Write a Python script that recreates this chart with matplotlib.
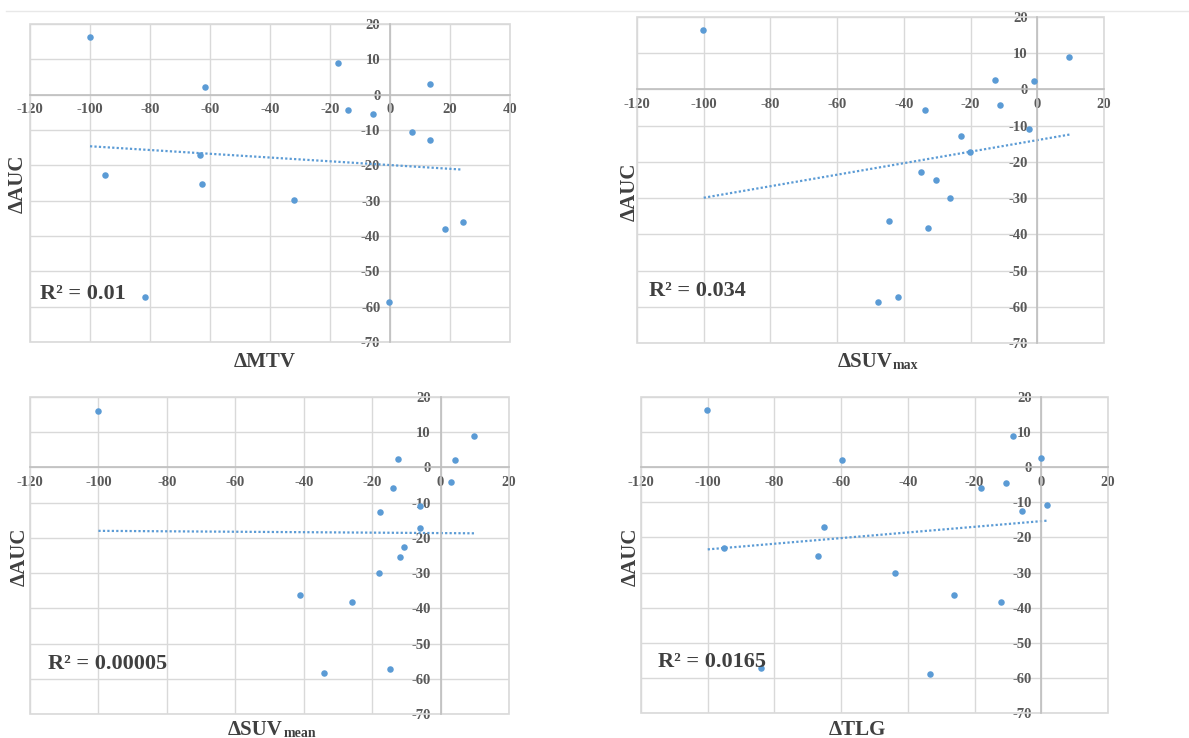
import matplotlib
matplotlib.use("Agg")
import matplotlib.pyplot as plt
from matplotlib.patches import Rectangle
from matplotlib.lines import Line2D

plt.rcParams['font.family'] = ['Liberation Serif', 'DejaVu Serif']
plt.rcParams['axes.unicode_minus'] = False

# ---- data ----
x_mtv = [-100, -61.6, -17.4, -14.0, -5.6, 13.4, 7.2, 13.4, -95.0, -63.3, -62.7, -32.1, 18.3, 24.2, -81.8, -0.4]
y_auc_mtv = [16.3, 2.1, 8.9, -4.3, -5.6, 2.9, -10.7, -12.8, -22.6, -17.1, -25.2, -29.9, -38.1, -36.1, -57.4, -58.7]
trend_x_mtv = [-100, 24]
trend_y_mtv = [-14.6, -21.2]

x_suvmax = [-100.2, 9.5, -12.6, -1.0, -33.6, -11.3, -2.4, -22.9, -20.2, -34.8, -30.4, -26.1, -44.5, -32.9, -47.7, -41.9]
y_auc_suvmax = [16.4, 9.0, 2.7, 2.3, -5.8, -4.4, -10.9, -12.8, -17.3, -22.7, -25.1, -30.1, -36.2, -38.2, -58.8, -57.4]
trend_x_suvmax = [-100, 10]
trend_y_suvmax = [-29.9, -12.4]

x_suvmean = [-100.2, 9.9, -12.3, 4.2, 3.0, -13.8, -5.9, -17.8, -6.0, -10.7, -12.0, -18.1, -41.0, -26.0, -34.0, -14.7]
y_auc_suvmean = [16.1, 8.9, 2.5, 2.2, -4.2, -5.9, -11.0, -12.7, -17.2, -22.6, -25.3, -30.1, -36.2, -38.2, -58.5, -57.2]
trend_x_suvmean = [-100, 10]
trend_y_suvmean = [-18.0, -18.7]

x_tlg = [-100.1, -59.6, -8.5, -0.2, -18.0, -10.7, 1.7, -5.9, -65.0, -95.0, -66.9, -44.0, -26.2, -12.0, -83.9, -33.5]
y_auc_tlg = [16.2, 2.1, 8.9, 2.5, -5.8, -4.4, -10.9, -12.6, -17.1, -22.9, -25.2, -30.1, -36.3, -38.3, -57.2, -58.9]
trend_x_tlg = [-100, 2]
trend_y_tlg = [-23.4, -15.2]

panels = [
    dict(x=x_mtv, y=y_auc_mtv, tx=trend_x_mtv, ty=trend_y_mtv, xlim=(-120, 40),
         xmain="\u0394MTV", xsub="", r2="R\u00b2 = 0.01",
         rect=(30, 24, 510, 342), ylab=(18, 184), xlab=(265, 367), r2pos=(40, 294)),
    dict(x=x_suvmax, y=y_auc_suvmax, tx=trend_x_suvmax, ty=trend_y_suvmax, xlim=(-120, 20),
         xmain="\u0394SUV", xsub="max", r2="R\u00b2 = 0.034",
         rect=(637, 17, 1104, 343), ylab=(630, 192), xlab=(878, 367), r2pos=(649, 291)),
    dict(x=x_suvmean, y=y_auc_suvmean, tx=trend_x_suvmean, ty=trend_y_suvmean, xlim=(-120, 20),
         xmain="\u0394SUV", xsub="mean", r2="R\u00b2 = 0.00005",
         rect=(30, 397, 509, 714), ylab=(20, 557), xlab=(272, 735), r2pos=(48, 664)),
    dict(x=x_tlg, y=y_auc_tlg, tx=trend_x_tlg, ty=trend_y_tlg, xlim=(-120, 20),
         xmain="\u0394TLG", xsub="", r2="R\u00b2 = 0.0165",
         rect=(641, 397, 1108, 713), ylab=(631, 557), xlab=(857, 735), r2pos=(658, 662)),
]

W, H = 1189, 738
fig = plt.figure(figsize=(W / 100, H / 100), dpi=100)
fig.patch.set_facecolor('white')

fig.add_artist(Line2D([6 / W, 1 - 1 / W], [1 - 11 / H, 1 - 11 / H], color='#e8e8e8', lw=1))

blue = '#5b9bd5'
grid_c = '#d9d9d9'
tick_c = '#595959'
title_c = '#404040'

fig.canvas.draw()
renderer = fig.canvas.get_renderer()

for p in panels:
    l, t, r, b = p['rect']
    ax = fig.add_axes([l / W, 1 - b / H, (r - l) / W, (b - t) / H])
    ax.set_xlim(*p['xlim'])
    ax.set_ylim(-70, 20)
    ax.set_xticks(list(range(p['xlim'][0], p['xlim'][1] + 1, 20)))
    ax.set_yticks(list(range(-70, 21, 10)))
    ax.grid(True, color=grid_c, lw=1.0, zorder=0)
    ax.set_axisbelow(True)
    for s in ['top', 'right']:
        ax.spines[s].set_visible(False)
    ax.spines['left'].set_position(('data', 0))
    ax.spines['bottom'].set_position(('data', 0))
    for s in ['left', 'bottom']:
        ax.spines[s].set_color('#bfbfbf')
        ax.spines[s].set_linewidth(1.2)
    ax.tick_params(length=0, colors=tick_c, labelsize=10.5)
    ax.tick_params(axis='y', pad=7)
    ax.tick_params(axis='x', pad=6)
    for lab in ax.get_xticklabels() + ax.get_yticklabels():
        lab.set_fontweight('bold')
        lab.set_color(tick_c)
    ax.add_patch(Rectangle((0, 0), 1, 1, transform=ax.transAxes, fill=False,
                           edgecolor=grid_c, lw=1.2, clip_on=False, zorder=1))
    ax.scatter(p['x'], p['y'], s=22, color=blue, zorder=3, linewidths=0)
    ax.plot(p['tx'], p['ty'], linestyle=(0, (1, 1)), color=blue, lw=1.6, zorder=2)

    fig.text(p['ylab'][0] / W, 1 - p['ylab'][1] / H, "\u0394AUC", rotation=90,
             ha='center', va='center', fontsize=15, fontweight='bold', color=title_c)

    # x-axis title: main part + optional small subscript on the same baseline
    cx, by = p['xlab']
    main = fig.text(0, 0, p['xmain'], fontsize=15, fontweight='bold', color=title_c)
    sub = fig.text(0, 0, p['xsub'], fontsize=10, fontweight='bold', color=title_c)
    wm = main.get_window_extent(renderer).width
    ws = sub.get_window_extent(renderer).width if p['xsub'] else 0
    x0 = cx - (wm + ws) / 2
    main.set_position((x0 / W, 1 - by / H))
    main.set_va('baseline')
    sub.set_position(((x0 + wm) / W, 1 - (by + 2) / H))
    sub.set_va('baseline')

    fig.text(p['r2pos'][0] / W, 1 - p['r2pos'][1] / H, p['r2'],
             ha='left', va='center', fontsize=16, fontweight='bold', color=title_c)

fig.savefig('out.png', dpi=100, facecolor='white')
